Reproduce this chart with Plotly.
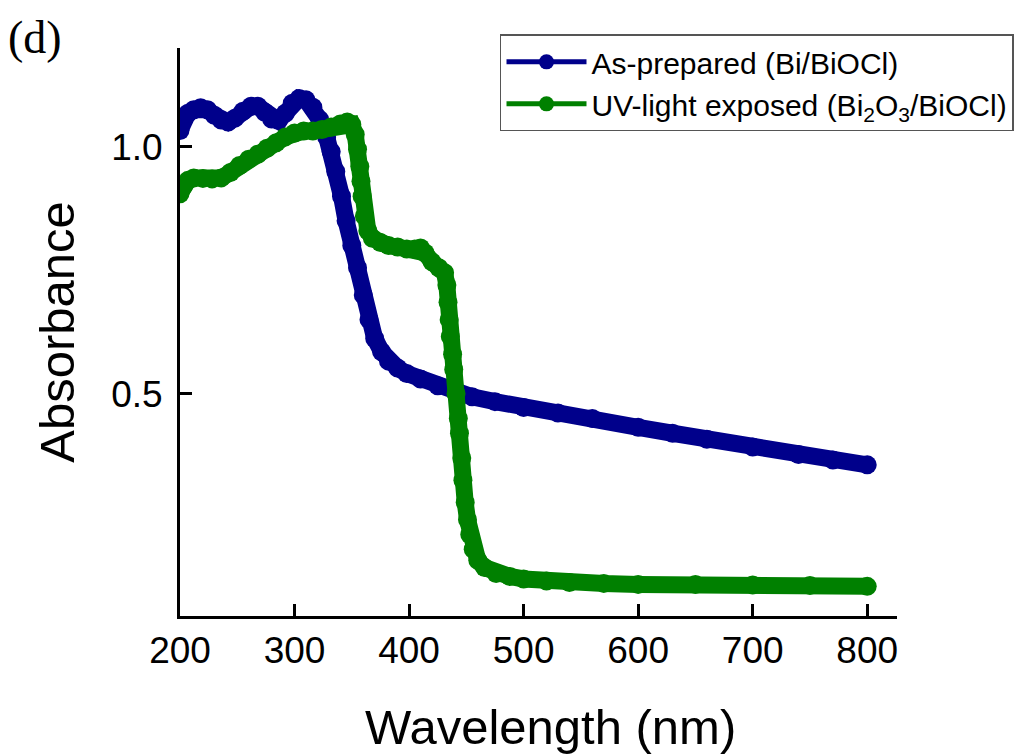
import plotly.graph_objects as go

# Wavelength (nm) and absorbance
blue_nm = [200, 203, 207, 212, 218, 224, 230, 236, 242, 248, 255, 262, 268, 274, 280, 286,
           292, 298, 304, 310, 316, 322, 328, 332, 336, 341, 345, 350, 355, 360, 365, 370,
           376, 382, 390, 398, 410, 425, 440, 455, 475, 500, 530, 560, 600, 630, 660, 700,
           740, 770, 800]
blue_abs = [1.033, 1.055, 1.068, 1.075, 1.079, 1.075, 1.064, 1.054, 1.050, 1.058, 1.072, 1.082,
            1.082, 1.070, 1.056, 1.053, 1.068, 1.088, 1.098, 1.095, 1.080, 1.055, 1.020, 0.990,
            0.950, 0.900, 0.850, 0.800, 0.755, 0.700, 0.650, 0.612, 0.585, 0.566, 0.552, 0.541,
            0.530, 0.516, 0.505, 0.494, 0.484, 0.472, 0.461, 0.450, 0.432, 0.420, 0.408, 0.392,
            0.377, 0.366, 0.356]

green_nm = [200, 203, 207, 212, 220, 228, 236, 244, 252, 260, 268, 276, 284, 292, 300, 308,
            316, 324, 332, 340, 346, 350, 353, 355, 357, 358, 359, 361, 364, 368, 375, 382,
            390, 398, 405, 410, 414, 420, 426, 431, 433, 434, 435, 436, 438, 439, 441, 443,
            444, 446, 447, 449, 451, 453, 456, 460, 466, 476, 488, 500, 520, 540, 570, 600,
            650, 700, 750, 800]
green_abs = [0.905, 0.920, 0.932, 0.937, 0.936, 0.935, 0.937, 0.948, 0.962, 0.975, 0.985, 0.997,
             1.008, 1.020, 1.028, 1.032, 1.032, 1.035, 1.040, 1.046, 1.050, 1.045, 1.025, 0.995,
             0.960, 0.930, 0.900, 0.860, 0.830, 0.815, 0.806, 0.800, 0.797, 0.793, 0.793, 0.795,
             0.785, 0.767, 0.755, 0.745, 0.720, 0.685, 0.650, 0.616, 0.580, 0.549, 0.500, 0.450,
             0.420, 0.370, 0.325, 0.280, 0.245, 0.215, 0.185, 0.163, 0.148, 0.136, 0.130, 0.125,
             0.121, 0.118, 0.116, 0.114, 0.114, 0.113, 0.112, 0.110]

x_ticks = [200, 300, 400, 500, 600, 700, 800]
y_ticks = [0.5, 1.0]
y_ticktext = ["0.5", "1.0"]

names = ["As-prepared (Bi/BiOCl)", "UV-light exposed (Bi<sub>2</sub>O<sub>3</sub>/BiOCl)"]
colors = ["#00008B", "#008000"]

fig = go.Figure()
for xs, ys, c in [(blue_nm, blue_abs, colors[0]), (green_nm, green_abs, colors[1])]:
    fig.add_trace(go.Scatter(x=xs, y=ys, mode="lines+markers",
                             line=dict(color=c, width=17),
                             marker=dict(color=c, size=19),
                             showlegend=False, hoverinfo="skip"))
for n, c in zip(names, colors):
    fig.add_trace(go.Scatter(x=[None], y=[None], mode="lines+markers", name=n,
                             line=dict(color=c, width=5),
                             marker=dict(color=c, size=15)))

font_fam = "Arial, Liberation Sans, sans-serif"
fig.update_layout(
    width=1024, height=755,
    margin=dict(l=180, r=127, t=48, b=139, autoexpand=False),
    paper_bgcolor="white", plot_bgcolor="white",
    font=dict(family=font_fam, color="black"),
    showlegend=True,
    legend=dict(x=0.4463, y=1.024, xanchor="left", yanchor="top",
                bordercolor="#555555", borderwidth=1.5, bgcolor="white",
                font=dict(size=30, family=font_fam), itemwidth=80,
                tracegroupgap=0),
    xaxis=dict(range=[200, 826], showline=True, linewidth=3, linecolor="black",
               ticks="inside", ticklen=12, tickwidth=2.5, tickcolor="black",
               tickvals=x_ticks, tickfont=dict(size=37), showgrid=False, zeroline=False,
               ticklabelstandoff=0, automargin=False),
    yaxis=dict(range=[0.05, 1.2], showline=True, linewidth=3, linecolor="black",
               ticks="inside", ticklen=12, tickwidth=2.5, tickcolor="black",
               tickvals=y_ticks, ticktext=y_ticktext, tickfont=dict(size=37),
               showgrid=False, zeroline=False, ticklabelstandoff=7, automargin=False,
               title=dict(text="Absorbance", font=dict(size=49), standoff=22)),
    annotations=[
        dict(text="(d)", xref="paper", yref="paper", x=-0.2427, y=1.0669,
             xanchor="left", yanchor="top", showarrow=False,
             font=dict(family="Times New Roman, Liberation Serif, serif", size=46)),
        dict(text="Wavelength (nm)", xref="paper", yref="paper", x=0.5174, y=-0.1955,
             xanchor="center", yanchor="middle", showarrow=False,
             font=dict(family=font_fam, size=49)),
    ],
)

fig.write_html("out.html")
